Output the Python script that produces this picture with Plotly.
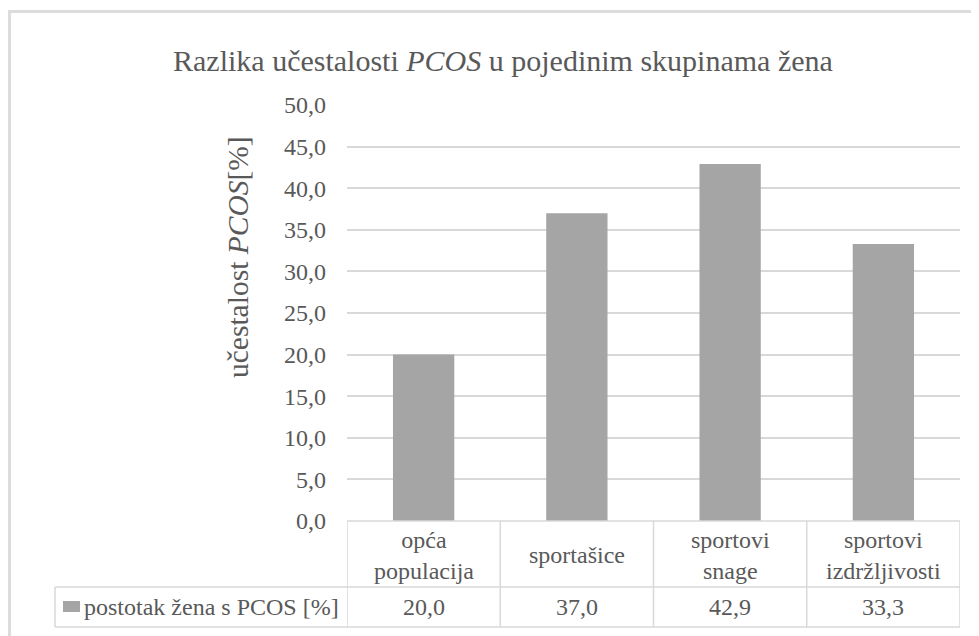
import plotly.graph_objects as go

categories = ["opća populacija", "sportašice", "sportovi snage", "sportovi izdržljivosti"]
category_labels = ["opća<br>populacija", "sportašice", "sportovi<br>snage", "sportovi<br>izdržljivosti"]
values = [20.0, 37.0, 42.9, 33.3]
value_labels = ["20,0", "37,0", "42,9", "33,3"]
series_name = "postotak žena s PCOS [%]"
title_text = "Razlika učestalosti <i>PCOS</i> u pojedinim skupinama žena"
y_title = "učestalost <i>PCOS</i>[%]"

FONT = "Liberation Serif"
TXT = "#595959"
GRID = "#d9d9d9"
BAR = "#a5a5a5"

OFF = 8  # page body margin
W, H = 979, 636
# plot area in screen pixels: x 347..960, y 105..521
SL, SR, ST, SB = 347, 960, 105, 521
L = SL - OFF
T = ST - OFF
PW = SR - SL
PH = SB - ST
R = W - L - PW
B = H - T - PH


def px(xs):
    return (xs - SL) / PW


def py(ys):
    return (SB - ys) / PH


fig = go.Figure()
fig.add_trace(go.Bar(x=categories, y=values, marker=dict(color=BAR, line=dict(width=0)),
                     width=0.4, name=series_name, showlegend=False, hoverinfo="x+y"))

shapes = []
shapes.append(dict(type="rect", xref="paper", yref="paper", x0=px(9.5), x1=px(1000), y0=py(660), y1=py(11.5),
                   line=dict(color="#dcdcdc", width=3), layer="below"))
row1 = py(587)
row2 = py(627)
shapes.append(dict(type="line", xref="paper", yref="paper", x0=0, x1=1, y0=0, y1=0, line=dict(color=GRID, width=1.5)))
shapes.append(dict(type="line", xref="paper", yref="paper", x0=px(55), x1=1, y0=row1, y1=row1, line=dict(color=GRID, width=1.5)))
shapes.append(dict(type="line", xref="paper", yref="paper", x0=px(55), x1=1, y0=row2, y1=row2, line=dict(color=GRID, width=1.5)))
for i in range(len(categories) + 1):
    shapes.append(dict(type="line", xref="x", yref="paper", x0=i - 0.5, x1=i - 0.5, y0=0, y1=row2,
                       line=dict(color=GRID, width=1.5)))
shapes.append(dict(type="line", xref="paper", yref="paper", x0=px(55), x1=px(55), y0=row1, y1=row2,
                   line=dict(color=GRID, width=1.5)))
shapes.append(dict(type="rect", xref="paper", yref="paper", x0=px(63), x1=px(80), y0=py(612), y1=py(601),
                   line=dict(width=0), fillcolor=BAR))

annotations = []
for c, lab, v in zip(categories, category_labels, value_labels):
    annotations.append(dict(x=c, xref="x", y=py(555), yref="paper", text=lab, showarrow=False,
                            font=dict(family=FONT, size=24, color=TXT), xanchor="center", yanchor="middle"))
    annotations.append(dict(x=c, xref="x", y=py(607), yref="paper", text=v, showarrow=False,
                            font=dict(family=FONT, size=24, color=TXT), xanchor="center", yanchor="middle"))
annotations.append(dict(x=px(82), xref="paper", y=py(607), yref="paper", text=series_name, showarrow=False,
                        font=dict(family=FONT, size=24, color=TXT), xanchor="left", yanchor="middle"))
annotations.append(dict(x=px(238), xref="paper", y=py(257), yref="paper", text=y_title, showarrow=False,
                        textangle=-90, font=dict(family=FONT, size=29.5, color=TXT),
                        xanchor="center", yanchor="middle"))
annotations.append(dict(x=px(503), xref="paper", y=py(60), yref="paper", text=title_text, showarrow=False,
                        font=dict(family=FONT, size=30, color=TXT), xanchor="center", yanchor="middle"))

fig.update_layout(
    width=W, height=H, autosize=False,
    margin=dict(l=L, r=R, t=T, b=B, pad=0),
    paper_bgcolor="white", plot_bgcolor="white",
    separators=", ",
    font=dict(family=FONT, color=TXT),
    xaxis=dict(type="category", range=[-0.5, len(categories) - 0.5], showticklabels=False,
               showgrid=False, zeroline=False, showline=False, ticks=""),
    yaxis=dict(range=[0, 50], dtick=5, tick0=0, tickformat=".1f", showgrid=True, gridcolor=GRID,
               gridwidth=1.5, zeroline=False, showline=False, ticks="", ticklabelstandoff=20,
               tickfont=dict(family=FONT, size=24, color=TXT)),
    shapes=shapes, annotations=annotations,
    bargap=0.6,
)

fig.write_html("out.html")
